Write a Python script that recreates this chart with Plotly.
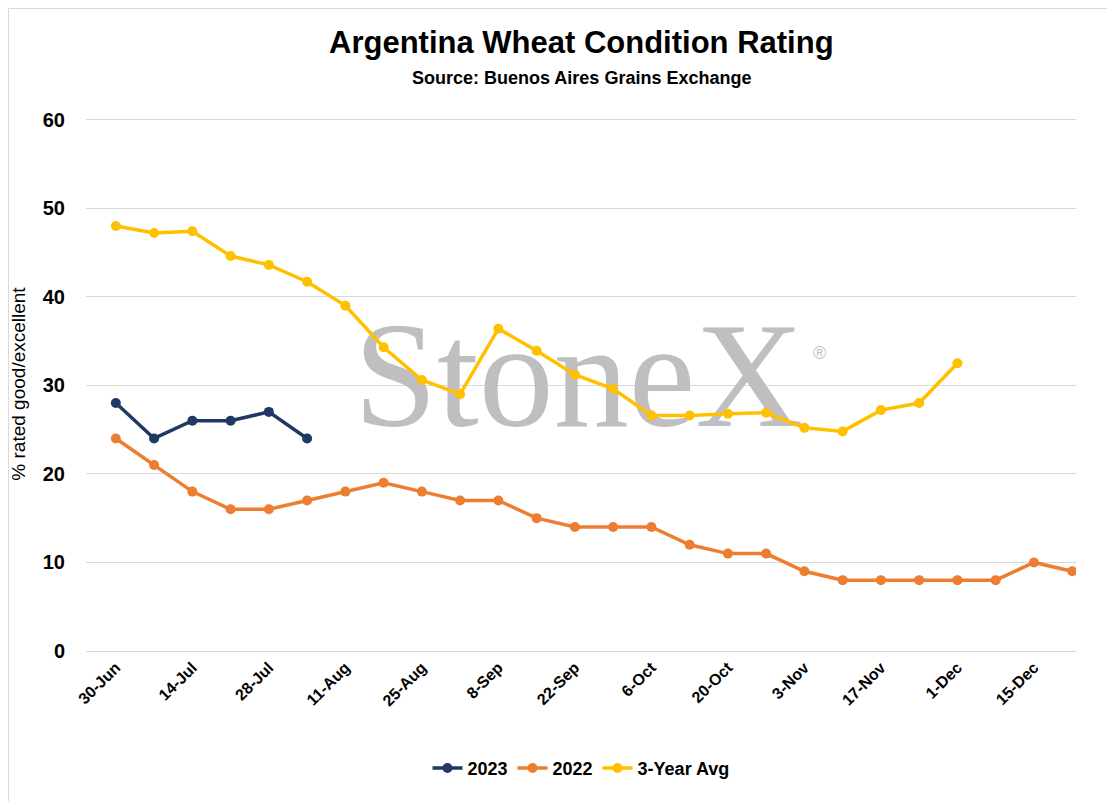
import plotly.graph_objects as go

dates = ["30-Jun","7-Jul","14-Jul","21-Jul","28-Jul","4-Aug","11-Aug","18-Aug","25-Aug","1-Sep",
         "8-Sep","15-Sep","22-Sep","29-Sep","6-Oct","13-Oct","20-Oct","27-Oct","3-Nov","10-Nov",
         "17-Nov","24-Nov","1-Dec","8-Dec","15-Dec","22-Dec"]
tick_labels = dates[::2]
y2023 = [28, 24, 26, 26, 27, 24]
y2022 = [24, 21, 18, 16, 16, 17, 18, 19, 18, 17, 17, 15, 14, 14, 14, 12, 11, 11, 9, 8, 8, 8, 8, 8, 10, 9]
yavg = [48, 47.2, 47.4, 44.6, 43.6, 41.7, 39, 34.3, 30.6, 29, 36.4, 33.9, 31.2, 29.6, 26.6, 26.6,
        26.8, 26.9, 25.2, 24.8, 27.2, 28, 32.5]

font = "Liberation Sans"
fig = go.Figure()
fig.add_trace(go.Scatter(x=[12.1], y=[29.6], mode="text", text=["StoneX"], showlegend=False, hoverinfo="skip",
                         textfont=dict(family="Liberation Serif", size=150, color="#bfbfc2")))
fig.add_trace(go.Scatter(x=[18.4], y=[33.5], mode="text", text=["®"], showlegend=False, hoverinfo="skip",
                         textfont=dict(family="Liberation Sans", size=18, color="#bfbfc2")))
for name, ys, col in [("2023", y2023, "#1f3864"), ("2022", y2022, "#ed7d31"), ("3-Year Avg", yavg, "#ffc000")]:
    fig.add_trace(go.Scatter(x=list(range(len(ys))), y=ys, name=name, mode="lines+markers",
                             line=dict(color=col, width=3.5), marker=dict(size=10, color=col)))

fig.add_annotation(text="<b>Argentina Wheat Condition Rating</b>", x=0.5, y=42, xref="paper", yref="paper",
                   showarrow=False, font=dict(family=font, size=31, color="black"))
fig.add_annotation(text="<b>Source: Buenos Aires Grains Exchange</b>", x=0.5, y=0, xref="paper", yref="paper",
                   showarrow=False, font=dict(family=font, size=18, color="black"))

fig.update_layout(
    width=1115, height=801, paper_bgcolor="white", plot_bgcolor="white",
    margin=dict(l=78, r=47, t=109, b=158, autoexpand=False),
    font=dict(family=font, color="black"),
    xaxis=dict(range=[-0.78, 25.1], tickmode="array", tickvals=list(range(0, 26, 2)), ticktext=tick_labels,
               tickangle=-45, tickfont=dict(size=16, family=font, weight="bold"), showgrid=False,
               showline=True, linecolor="#d9d9d9", zeroline=False),
    yaxis=dict(range=[0, 60.3], tickvals=[0, 10, 20, 30, 40, 50, 60], tickfont=dict(size=20, weight="bold"),
               gridcolor="#d9d9d9", zeroline=False,
               title=dict(text="% rated good/excellent", font=dict(size=19), standoff=12), ticklabelstandoff=20),
    legend=dict(orientation="h", x=0.5, xanchor="center", y=-0.185, yanchor="top", font=dict(size=18, weight="bold")),
)
ph = 801 - 109 - 158
pw = 1115 - 78 - 47
fig.layout.annotations[0].y = 1 + (109 - 15) / ph
fig.layout.annotations[1].y = 1 + (109 - 58) / ph
fig.add_shape(type="rect", xref="paper", yref="paper",
              x0=-77.5 / pw, x1=1 + 46.5 / pw, y0=-157.5 / ph, y1=1 + 108.5 / ph,
              line=dict(color="#d9d9d9", width=1), fillcolor="rgba(0,0,0,0)", layer="below")
fig.write_html("out.html")
